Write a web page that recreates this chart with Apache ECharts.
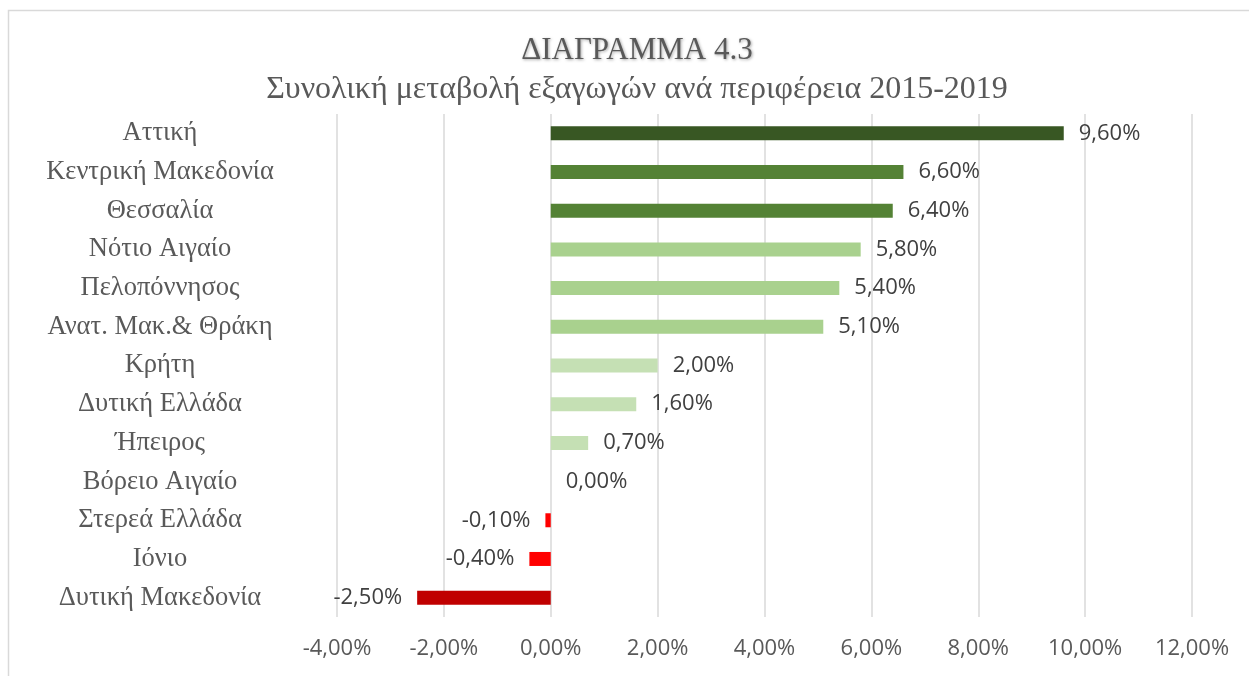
<!DOCTYPE html>
<html>
<head>
<meta charset="utf-8">
<script src="https://cdn.jsdelivr.net/npm/echarts@6/dist/echarts.min.js"></script>
<style>
  html, body { margin: 0; padding: 0; background: #fff; }
  #main { width: 1249px; height: 676px; }
</style>
</head>
<body>
<div id="main"></div>
<script>
// περιφέρειες, από πάνω προς τα κάτω
var regions = ['Αττική', 'Κεντρική Μακεδονία', 'Θεσσαλία', 'Νότιο Αιγαίο', 'Πελοπόννησος',
    'Ανατ. Μακ.& Θράκη', 'Κρήτη', 'Δυτική Ελλάδα', 'Ήπειρος', 'Βόρειο Αιγαίο',
    'Στερεά Ελλάδα', 'Ιόνιο', 'Δυτική Μακεδονία'];
var changes = [9.6, 6.6, 6.4, 5.8, 5.4, 5.1, 2.0, 1.6, 0.7, 0.0, -0.1, -0.4, -2.5];
var barColors = ['#385723', '#548235', '#548235', '#a9d18e', '#a9d18e', '#a9d18e',
    '#c5e0b4', '#c5e0b4', '#c5e0b4', '#c5e0b4', '#ff0000', '#ff0000', '#c00000'];
var xTicks = [-4, 12, 2]; // min, max, βήμα

function pct(v) {
    return v.toFixed(2).replace('.', ',') + '%';
}

var myChart = echarts.init(document.getElementById('main'));

var data = changes.map(function (v, i) {
    return {
        value: v,
        itemStyle: { color: barColors[i] },
        label: { position: v < 0 ? 'left' : 'right' }
    };
});

var option = {
    backgroundColor: '#fff',
    animation: false,
    title: {
        text: 'ΔΙΑΓΡΑΜΜΑ 4.3',
        subtext: 'Συνολική μεταβολή εξαγωγών ανά περιφέρεια 2015-2019',
        left: 632,
        top: 30,
        textAlign: 'center',
        itemGap: 8,
        textStyle: {
            fontFamily: 'Liberation Serif',
            fontWeight: 'normal',
            fontSize: 31,
            color: '#595959',
            textShadowColor: 'rgba(0,0,0,0.35)',
            textShadowBlur: 3,
            textShadowOffsetX: 1,
            textShadowOffsetY: 1
        },
        subtextStyle: {
            fontFamily: 'Liberation Serif',
            fontSize: 32,
            color: '#595959'
        }
    },
    graphic: [{
        type: 'rect',
        shape: { x: 8.5, y: 10.5, width: 1260, height: 700 },
        style: { fill: 'none', stroke: '#d9d9d9', lineWidth: 1.5 },
        silent: true
    }],
    grid: {
        left: 337,
        right: 57,
        top: 114,
        bottom: 59,
        containLabel: false,
        outerBoundsMode: 'none'
    },
    xAxis: {
        type: 'value',
        min: xTicks[0],
        max: xTicks[1],
        interval: xTicks[2],
        axisLine: { show: false },
        axisTick: { show: false },
        splitLine: { lineStyle: { color: '#d9d9d9', width: 1.5 } },
        axisLabel: {
            margin: 21,
            fontFamily: 'Open Sans',
            fontSize: 22,
            color: '#595959',
            formatter: function (v) { return pct(v); }
        }
    },
    yAxis: {
        type: 'category',
        data: regions,
        inverse: true,
        axisLine: { show: false, onZero: false },
        axisTick: { show: false },
        axisLabel: {
            align: 'center',
            margin: 177,
            padding: [5, 0, 0, 0],
            fontFamily: 'Liberation Serif',
            fontSize: 26.5,
            color: '#595959'
        }
    },
    series: [{
        type: 'bar',
        barWidth: 14,
        data: data,
        label: {
            show: true,
            distance: 15,
            fontFamily: 'Open Sans',
            fontSize: 22,
            color: '#404040',
            formatter: function (p) { return pct(p.value); }
        }
    }]
};

myChart.setOption(option);
</script>
</body>
</html>
